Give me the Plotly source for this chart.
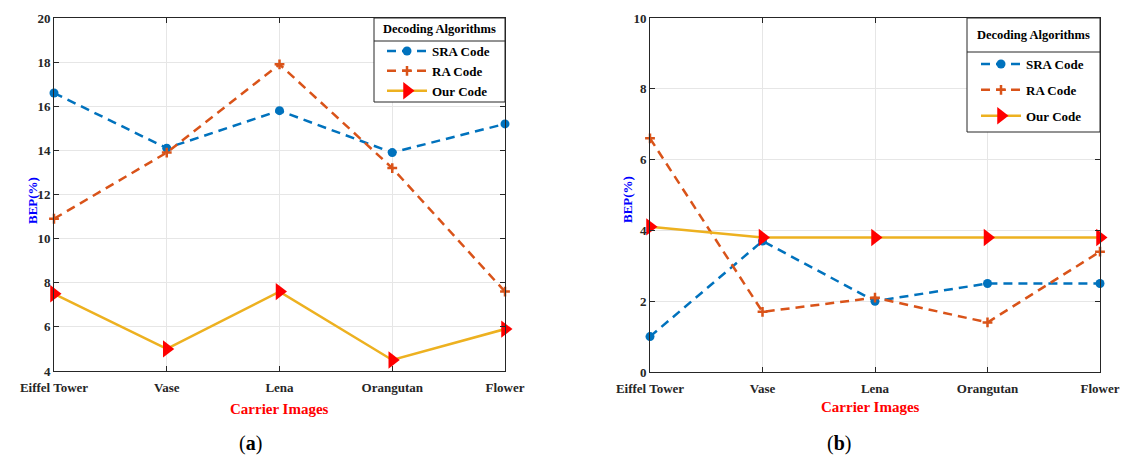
import plotly.graph_objects as go

categories = ["Eiffel Tower", "Vase", "Lena", "Orangutan", "Flower"]
sra_a = [16.6, 14.1, 15.8, 13.9, 15.2]
ra_a = [10.9, 13.9, 17.9, 13.2, 7.6]
our_a = [7.5, 5.0, 7.6, 4.5, 5.9]
sra_b = [1.0, 3.7, 2.0, 2.5, 2.5]
ra_b = [6.6, 1.7, 2.1, 1.4, 3.4]
our_b = [4.1, 3.8, 3.8, 3.8, 3.8]

W, H = 1122, 458
FONT = "Liberation Serif"
TXT = "#262626"
C_SRA, C_RA, C_OUR, C_TRI = "#0072BD", "#D95319", "#EDB120", "#FF0000"
DASH = "9px,6px"

xs = list(range(len(categories)))
fig = go.Figure()

def add_panel(sra, ra, our, xa, ya, leg):
    fig.add_trace(go.Scatter(x=xs, y=sra, mode="lines+markers", name="<b>SRA Code</b>",
                             line=dict(color=C_SRA, width=2.5, dash=DASH),
                             marker=dict(symbol="circle", size=9, color=C_SRA),
                             xaxis=xa, yaxis=ya, legend=leg, legendgroup=leg+"1", cliponaxis=False))
    fig.add_trace(go.Scatter(x=xs, y=ra, mode="lines+markers", name="<b>RA Code</b>",
                             line=dict(color=C_RA, width=2.5, dash=DASH),
                             marker=dict(symbol="cross-thin", size=7, color=C_RA,
                                         line=dict(color=C_RA, width=2.5)),
                             xaxis=xa, yaxis=ya, legend=leg, legendgroup=leg+"2", cliponaxis=False))
    fig.add_trace(go.Scatter(x=xs, y=our, mode="lines+markers", name="<b>Our Code</b>",
                             line=dict(color=C_OUR, width=2.5),
                             marker=dict(symbol="triangle-right", size=15, color=C_TRI),
                             xaxis=xa, yaxis=ya, legend=leg, legendgroup=leg+"3", cliponaxis=False))

add_panel(sra_a, ra_a, our_a, "x", "y", "legend")
add_panel(sra_b, ra_b, our_b, "x2", "y2", "legend2")

PA = dict(l=54, r=505, t=18, b=371)
PB = dict(l=650, r=1100, t=18, b=372)

def dom(p):
    return [p["l"]/W, p["r"]/W], [1 - p["b"]/H, 1 - p["t"]/H]

xa_d, ya_d = dom(PA)
xb_d, yb_d = dom(PB)

axis_common = dict(showline=True, linecolor="#262626", linewidth=1, mirror="ticks",
                   ticks="inside", ticklen=5, tickcolor="#262626", automargin=False,
                   showgrid=True, gridcolor="#e6e6e6", gridwidth=1, zeroline=False,
                   tickfont=dict(family=FONT, size=13, color=TXT))

leg_common = dict(xanchor="left", yanchor="top", bgcolor="rgba(0,0,0,0)", borderwidth=0,
                  font=dict(family=FONT, size=13, color="black"), itemwidth=40)

fig.update_layout(
    template="none",
    width=W, height=H, margin=dict(l=0, r=0, t=0, b=0),
    paper_bgcolor="white", plot_bgcolor="white", showlegend=True,
    font=dict(family=FONT, color=TXT),
    xaxis=dict(domain=xa_d, range=[0, 4], tickvals=xs, ticktext=["<b>%s</b>" % c for c in categories],
               anchor="y", ticklabelstandoff=4, **axis_common),
    yaxis=dict(domain=ya_d, range=[4, 20], tickvals=list(range(4, 21, 2)),
               ticktext=["<b>%d</b>" % v for v in range(4, 21, 2)], anchor="x", **axis_common),
    xaxis2=dict(domain=xb_d, range=[0, 4], tickvals=xs, ticktext=["<b>%s</b>" % c for c in categories],
                anchor="y2", ticklabelstandoff=4, **axis_common),
    yaxis2=dict(domain=yb_d, range=[0, 10], tickvals=list(range(0, 11, 2)),
                ticktext=["<b>%d</b>" % v for v in range(0, 11, 2)], anchor="x2", **axis_common),
    legend=dict(x=382/W, y=1 - 36/H, tracegroupgap=0, **leg_common),
    legend2=dict(x=976/W, y=1 - 49/H, tracegroupgap=6, **leg_common),
)

def legend_box(x0, y0, x1, y1, ysep):
    fig.add_shape(type="rect", xref="paper", yref="paper", x0=x0/W, x1=x1/W, y0=1-y1/H, y1=1-y0/H,
                  fillcolor="white", line=dict(color="#262626", width=1), layer="above")
    fig.add_shape(type="line", xref="paper", yref="paper", x0=x0/W, x1=x1/W, y0=1-ysep/H, y1=1-ysep/H,
                  line=dict(color="#262626", width=1), layer="above")
    fig.add_annotation(text="<b>Decoding Algorithms</b>", x=(x0+x1)/2/W, y=1-(y0+ysep)/2/H,
                       xref="paper", yref="paper", showarrow=False, xanchor="center", yanchor="middle",
                       font=dict(family=FONT, size=12.5, color="black"))

legend_box(374, 18, 505, 102, 41)
legend_box(967, 18, 1100, 132, 52)

def ann(text, x, y, color, size, angle=0):
    fig.add_annotation(text=text, x=x/W, y=1-y/H, xref="paper", yref="paper", showarrow=False,
                       font=dict(family=FONT, size=size, color=color), textangle=angle,
                       xanchor="center", yanchor="middle")

ann("<b>BEP(%)</b>", 32, 200, "blue", 13, -90)
ann("<b>BEP(%)</b>", 627, 200, "blue", 13, -90)
ann("<b>Carrier Images</b>", 279, 409, "red", 15)
ann("<b>Carrier Images</b>", 870, 407, "red", 15)
ann("(<b>a</b>)", 250, 443, "black", 20)
ann("(<b>b</b>)", 839, 443, "black", 20)

fig.write_html("out.html", config={"displayModeBar": False},
               post_script="document.body.style.margin='0';document.body.style.overflow='hidden';")
